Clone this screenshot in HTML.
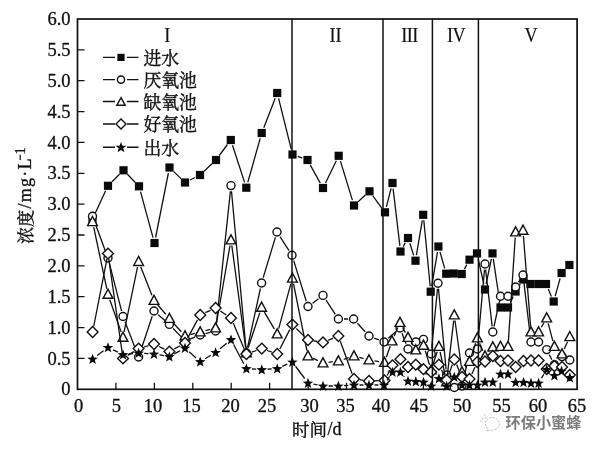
<!DOCTYPE html>
<html><head><meta charset="utf-8"><title>chart</title>
<style>html,body{margin:0;padding:0;background:#fff}body{width:600px;height:449px;overflow:hidden;font-family:"Liberation Serif",serif}svg{display:block;opacity:0.999;will-change:transform}</style>
</head><body>
<svg width="600" height="449" viewBox="0 0 600 449">
<rect width="600" height="449" fill="#fff"/>
<rect x="77.5" y="19.0" width="499.6" height="370.3" fill="none" stroke="#111" stroke-width="1.7"/>
<path d="M77.5 358.4h7M77.5 327.6h7M77.5 296.7h7M77.5 265.9h7M77.5 235.0h7M77.5 204.1h7M77.5 173.3h7M77.5 142.4h7M77.5 111.6h7M77.5 80.7h7M77.5 49.8h7M115.9 389.3v-6.5M154.4 389.3v-6.5M192.8 389.3v-6.5M231.2 389.3v-6.5M269.6 389.3v-6.5M308.1 389.3v-6.5M346.5 389.3v-6.5M384.9 389.3v-6.5M423.4 389.3v-6.5M461.8 389.3v-6.5M500.2 389.3v-6.5M538.7 389.3v-6.5" stroke="#111" stroke-width="1.3" fill="none"/>
<g font-family="'Liberation Serif', serif" font-size="18.5px" fill="#111" stroke="#111" stroke-width="0.3">
<text x="70.5" y="395.4" text-anchor="end">0</text>
<text x="70.5" y="364.5" text-anchor="end">0.5</text>
<text x="70.5" y="333.7" text-anchor="end">1.0</text>
<text x="70.5" y="302.8" text-anchor="end">1.5</text>
<text x="70.5" y="272.0" text-anchor="end">2.0</text>
<text x="70.5" y="241.1" text-anchor="end">2.5</text>
<text x="70.5" y="210.2" text-anchor="end">3.0</text>
<text x="70.5" y="179.4" text-anchor="end">3.5</text>
<text x="70.5" y="148.5" text-anchor="end">4.0</text>
<text x="70.5" y="117.7" text-anchor="end">4.5</text>
<text x="70.5" y="86.8" text-anchor="end">5.0</text>
<text x="70.5" y="55.9" text-anchor="end">5.5</text>
<text x="70.5" y="25.1" text-anchor="end">6.0</text>
<text x="78.5" y="411.8" text-anchor="middle">0</text>
<text x="116.4" y="411.8" text-anchor="middle">5</text>
<text x="153.0" y="411.8" text-anchor="middle">10</text>
<text x="191.4" y="411.8" text-anchor="middle">15</text>
<text x="230.4" y="411.8" text-anchor="middle">20</text>
<text x="267.0" y="411.8" text-anchor="middle">25</text>
<text x="309.6" y="411.8" text-anchor="middle">30</text>
<text x="345.6" y="411.8" text-anchor="middle">35</text>
<text x="381.0" y="411.8" text-anchor="middle">40</text>
<text x="419.0" y="411.8" text-anchor="middle">45</text>
<text x="462.0" y="411.8" text-anchor="middle">50</text>
<text x="501.6" y="411.8" text-anchor="middle">55</text>
<text x="538.0" y="411.8" text-anchor="middle">60</text>
<text x="577.0" y="411.8" text-anchor="middle">65</text>
</g>
<g font-family="'Liberation Serif', serif" font-size="22px" fill="#111" stroke="#111" stroke-width="0.2" text-anchor="middle">
<text transform="translate(167.4 42.1) scale(0.83 1)" letter-spacing="0">I</text>
<text transform="translate(335.5 42.1) scale(0.83 1)" letter-spacing="0">II</text>
<text transform="translate(409.5 42.1) scale(0.83 1)" letter-spacing="-0.6">III</text>
<text transform="translate(456.0 42.1) scale(0.83 1)" letter-spacing="-0.8">IV</text>
<text transform="translate(531.0 42.1) scale(0.83 1)" letter-spacing="0">V</text>
</g>
<path d="M94.9 213.9L105.6 190.8M112.0 181.8L119.5 174.2M127.4 174.3L135.1 182.2M140.5 191.7L153.0 237.6M155.6 237.5L168.4 173.0M173.5 171.4L181.0 178.6M190.0 180.0L195.0 177.5M204.1 171.2L211.9 163.8M219.3 155.5L227.4 144.5M232.5 145.3L244.6 182.4M247.8 182.3L260.2 138.4M263.8 127.8L275.2 98.2M278.6 98.4L291.2 149.1M297.8 156.4L302.2 158.1M310.2 164.9L320.3 183.1M325.5 183.0L336.3 160.8M340.4 161.1L352.4 200.1M358.1 201.7L365.4 195.0M372.8 195.8L381.7 207.8M386.4 206.9L391.1 188.4M393.1 188.6L399.9 245.9M403.2 246.6L405.3 242.9M409.8 243.3L413.7 255.4M416.4 255.2L422.3 220.3M423.8 220.3L430.2 286.2M431.7 286.2L437.5 252.0M440.0 251.9L444.7 268.4M464.4 269.1L466.8 264.6M478.2 258.9L483.8 284.0M486.1 284.0L491.4 258.9M493.3 258.9L499.7 302.0M510.4 302.4L513.2 296.6M518.6 286.8L520.3 284.2M548.3 289.1L551.4 296.4M555.2 296.1L560.1 278.4" stroke="#111" stroke-width="1.30" fill="none"/>
<rect x="88.4" y="214.9" width="8.2" height="8.2" fill="#0a0a0a"/>
<rect x="103.9" y="181.7" width="8.2" height="8.2" fill="#0a0a0a"/>
<rect x="119.4" y="166.2" width="8.2" height="8.2" fill="#0a0a0a"/>
<rect x="134.9" y="182.2" width="8.2" height="8.2" fill="#0a0a0a"/>
<rect x="150.4" y="238.9" width="8.2" height="8.2" fill="#0a0a0a"/>
<rect x="165.4" y="163.4" width="8.2" height="8.2" fill="#0a0a0a"/>
<rect x="180.9" y="178.4" width="8.2" height="8.2" fill="#0a0a0a"/>
<rect x="195.9" y="170.9" width="8.2" height="8.2" fill="#0a0a0a"/>
<rect x="211.9" y="155.9" width="8.2" height="8.2" fill="#0a0a0a"/>
<rect x="226.7" y="135.9" width="8.2" height="8.2" fill="#0a0a0a"/>
<rect x="242.2" y="183.6" width="8.2" height="8.2" fill="#0a0a0a"/>
<rect x="257.6" y="128.9" width="8.2" height="8.2" fill="#0a0a0a"/>
<rect x="273.1" y="88.9" width="8.2" height="8.2" fill="#0a0a0a"/>
<rect x="288.4" y="150.4" width="8.2" height="8.2" fill="#0a0a0a"/>
<rect x="303.4" y="155.9" width="8.2" height="8.2" fill="#0a0a0a"/>
<rect x="318.9" y="183.9" width="8.2" height="8.2" fill="#0a0a0a"/>
<rect x="334.6" y="151.7" width="8.2" height="8.2" fill="#0a0a0a"/>
<rect x="349.9" y="201.4" width="8.2" height="8.2" fill="#0a0a0a"/>
<rect x="365.4" y="187.2" width="8.2" height="8.2" fill="#0a0a0a"/>
<rect x="380.9" y="208.2" width="8.2" height="8.2" fill="#0a0a0a"/>
<rect x="388.4" y="178.9" width="8.2" height="8.2" fill="#0a0a0a"/>
<rect x="396.4" y="247.4" width="8.2" height="8.2" fill="#0a0a0a"/>
<rect x="403.9" y="233.9" width="8.2" height="8.2" fill="#0a0a0a"/>
<rect x="411.4" y="256.6" width="8.2" height="8.2" fill="#0a0a0a"/>
<rect x="419.1" y="210.7" width="8.2" height="8.2" fill="#0a0a0a"/>
<rect x="426.6" y="287.6" width="8.2" height="8.2" fill="#0a0a0a"/>
<rect x="434.3" y="242.4" width="8.2" height="8.2" fill="#0a0a0a"/>
<rect x="442.1" y="269.6" width="8.2" height="8.2" fill="#0a0a0a"/>
<rect x="449.6" y="269.4" width="8.2" height="8.2" fill="#0a0a0a"/>
<rect x="457.6" y="269.9" width="8.2" height="8.2" fill="#0a0a0a"/>
<rect x="465.4" y="255.6" width="8.2" height="8.2" fill="#0a0a0a"/>
<rect x="472.9" y="249.3" width="8.2" height="8.2" fill="#0a0a0a"/>
<rect x="480.9" y="285.4" width="8.2" height="8.2" fill="#0a0a0a"/>
<rect x="488.4" y="249.3" width="8.2" height="8.2" fill="#0a0a0a"/>
<rect x="496.4" y="303.4" width="8.2" height="8.2" fill="#0a0a0a"/>
<rect x="503.9" y="303.4" width="8.2" height="8.2" fill="#0a0a0a"/>
<rect x="511.5" y="287.4" width="8.2" height="8.2" fill="#0a0a0a"/>
<rect x="519.2" y="275.4" width="8.2" height="8.2" fill="#0a0a0a"/>
<rect x="526.4" y="279.9" width="8.2" height="8.2" fill="#0a0a0a"/>
<rect x="534.4" y="279.9" width="8.2" height="8.2" fill="#0a0a0a"/>
<rect x="541.9" y="279.9" width="8.2" height="8.2" fill="#0a0a0a"/>
<rect x="549.6" y="297.4" width="8.2" height="8.2" fill="#0a0a0a"/>
<rect x="557.5" y="268.9" width="8.2" height="8.2" fill="#0a0a0a"/>
<rect x="565.3" y="260.9" width="8.2" height="8.2" fill="#0a0a0a"/>
<path d="M94.5 221.5L106.0 252.8M109.4 263.4L121.6 311.1M125.0 321.7L136.6 351.8M140.4 351.7L152.2 316.3M158.2 314.7L165.2 320.7M173.2 328.5L181.2 336.9M190.2 338.9L195.0 337.1M205.6 333.6L210.2 332.4M216.2 325.4L230.4 191.2M231.5 191.2L245.9 347.4M247.6 347.5L260.4 288.5M263.2 277.6L275.4 237.4M280.0 236.7L289.0 250.6M293.7 260.6L306.3 301.2M312.5 303.2L318.5 298.7M326.1 300.1L335.3 314.3M344.0 319.0L348.0 319.0M357.4 323.2L365.2 331.8M374.2 338.1L378.8 339.9M388.2 338.3L395.8 331.7M402.0 333.2L406.0 343.8M426.1 344.4L428.6 349.0M431.7 348.4L437.5 288.8M438.5 288.8L446.1 369.4M449.5 379.8L451.4 382.7M463.2 380.5L468.3 358.5M477.9 343.4L484.5 269.6M485.6 269.6L492.2 326.4M494.0 326.5L499.3 301.8M511.5 292.0L512.1 291.3M518.5 282.2L520.1 279.8M523.7 280.6L530.3 336.4M549.2 354.6L551.9 359.8" stroke="#111" stroke-width="1.30" fill="none"/>
<circle cx="92.5" cy="216.3" r="4.0" fill="#fff" stroke="#111" stroke-width="1.4"/>
<circle cx="108.0" cy="258.0" r="4.0" fill="#fff" stroke="#111" stroke-width="1.4"/>
<circle cx="123.0" cy="316.5" r="4.0" fill="#fff" stroke="#111" stroke-width="1.4"/>
<circle cx="138.6" cy="357.0" r="4.0" fill="#fff" stroke="#111" stroke-width="1.4"/>
<circle cx="154.0" cy="311.0" r="4.0" fill="#fff" stroke="#111" stroke-width="1.4"/>
<circle cx="169.4" cy="324.4" r="4.0" fill="#fff" stroke="#111" stroke-width="1.4"/>
<circle cx="185.0" cy="341.0" r="4.0" fill="#fff" stroke="#111" stroke-width="1.4"/>
<circle cx="200.2" cy="335.0" r="4.0" fill="#fff" stroke="#111" stroke-width="1.4"/>
<circle cx="215.6" cy="331.0" r="4.0" fill="#fff" stroke="#111" stroke-width="1.4"/>
<circle cx="231.0" cy="185.6" r="4.0" fill="#fff" stroke="#111" stroke-width="1.4"/>
<circle cx="246.4" cy="353.0" r="4.0" fill="#fff" stroke="#111" stroke-width="1.4"/>
<circle cx="261.6" cy="283.0" r="4.0" fill="#fff" stroke="#111" stroke-width="1.4"/>
<circle cx="277.0" cy="232.0" r="4.0" fill="#fff" stroke="#111" stroke-width="1.4"/>
<circle cx="292.0" cy="255.3" r="4.0" fill="#fff" stroke="#111" stroke-width="1.4"/>
<circle cx="308.0" cy="306.5" r="4.0" fill="#fff" stroke="#111" stroke-width="1.4"/>
<circle cx="323.0" cy="295.4" r="4.0" fill="#fff" stroke="#111" stroke-width="1.4"/>
<circle cx="338.4" cy="319.0" r="4.0" fill="#fff" stroke="#111" stroke-width="1.4"/>
<circle cx="353.6" cy="319.0" r="4.0" fill="#fff" stroke="#111" stroke-width="1.4"/>
<circle cx="369.0" cy="336.0" r="4.0" fill="#fff" stroke="#111" stroke-width="1.4"/>
<circle cx="384.0" cy="342.0" r="4.0" fill="#fff" stroke="#111" stroke-width="1.4"/>
<circle cx="400.0" cy="328.0" r="4.0" fill="#fff" stroke="#111" stroke-width="1.4"/>
<circle cx="408.0" cy="349.0" r="4.0" fill="#fff" stroke="#111" stroke-width="1.4"/>
<circle cx="415.8" cy="342.0" r="4.0" fill="#fff" stroke="#111" stroke-width="1.4"/>
<circle cx="423.5" cy="339.4" r="4.0" fill="#fff" stroke="#111" stroke-width="1.4"/>
<circle cx="431.2" cy="354.0" r="4.0" fill="#fff" stroke="#111" stroke-width="1.4"/>
<circle cx="438.0" cy="283.2" r="4.0" fill="#fff" stroke="#111" stroke-width="1.4"/>
<circle cx="446.6" cy="375.0" r="4.0" fill="#fff" stroke="#111" stroke-width="1.4"/>
<circle cx="454.3" cy="387.5" r="4.0" fill="#fff" stroke="#111" stroke-width="1.4"/>
<circle cx="462.0" cy="386.0" r="4.0" fill="#fff" stroke="#111" stroke-width="1.4"/>
<circle cx="469.5" cy="353.0" r="4.0" fill="#fff" stroke="#111" stroke-width="1.4"/>
<circle cx="477.4" cy="349.0" r="4.0" fill="#fff" stroke="#111" stroke-width="1.4"/>
<circle cx="485.0" cy="264.0" r="4.0" fill="#fff" stroke="#111" stroke-width="1.4"/>
<circle cx="492.8" cy="332.0" r="4.0" fill="#fff" stroke="#111" stroke-width="1.4"/>
<circle cx="500.5" cy="296.3" r="4.0" fill="#fff" stroke="#111" stroke-width="1.4"/>
<circle cx="508.0" cy="296.3" r="4.0" fill="#fff" stroke="#111" stroke-width="1.4"/>
<circle cx="515.6" cy="287.0" r="4.0" fill="#fff" stroke="#111" stroke-width="1.4"/>
<circle cx="523.0" cy="275.0" r="4.0" fill="#fff" stroke="#111" stroke-width="1.4"/>
<circle cx="531.0" cy="342.0" r="4.0" fill="#fff" stroke="#111" stroke-width="1.4"/>
<circle cx="538.6" cy="342.0" r="4.0" fill="#fff" stroke="#111" stroke-width="1.4"/>
<circle cx="546.7" cy="349.6" r="4.0" fill="#fff" stroke="#111" stroke-width="1.4"/>
<circle cx="554.4" cy="364.8" r="4.0" fill="#fff" stroke="#111" stroke-width="1.4"/>
<circle cx="562.0" cy="356.6" r="4.0" fill="#fff" stroke="#111" stroke-width="1.4"/>
<circle cx="569.8" cy="360.0" r="4.0" fill="#fff" stroke="#111" stroke-width="1.4"/>
<path d="M93.7 227.2L106.8 288.9M109.8 299.7L121.2 332.1M124.1 331.9L137.5 267.1M140.7 266.8L151.9 295.3M157.6 304.8L165.8 314.2M173.1 322.7L181.3 331.8M190.4 334.6L194.8 333.4M205.6 330.6L210.2 329.4M216.6 322.5L230.0 245.5M231.8 245.5L245.6 347.5M248.2 347.7L259.8 312.6M264.4 312.1L274.4 329.2M278.7 328.6L290.9 283.6M293.5 283.7L306.9 350.5M313.1 358.4L317.9 360.6M328.6 362.3L332.8 361.7M343.7 359.3L348.7 357.7M359.4 357.4L363.6 358.6M374.5 360.9L379.0 361.6M386.3 357.2L390.2 346.3M394.2 335.9L397.8 327.6M402.6 327.4L405.4 332.6M411.0 342.3L412.8 345.2M425.2 350.6L429.5 364.7M432.9 364.7L437.2 351.8M440.1 352.0L445.4 376.5M447.2 376.4L453.7 320.6M455.0 320.5L461.3 366.5M465.3 367.4L466.2 366.1M471.3 356.2L475.6 343.3M479.6 343.2L482.8 350.8M488.7 351.8L489.1 351.2M508.4 340.9L515.2 237.6M523.4 235.9L530.6 326.4M541.4 327.2L543.9 322.8M548.2 323.4L552.9 341.1M564.3 348.9L567.5 341.8" stroke="#111" stroke-width="1.30" fill="none"/>
<path d="M92.5 216.5L97.4 225.6L87.6 225.6Z" fill="#fff" stroke="#111" stroke-width="1.4"/>
<path d="M108.0 289.2L112.9 298.3L103.1 298.3Z" fill="#fff" stroke="#111" stroke-width="1.4"/>
<path d="M123.0 332.2L127.9 341.3L118.1 341.3Z" fill="#fff" stroke="#111" stroke-width="1.4"/>
<path d="M138.6 256.4L143.5 265.5L133.7 265.5Z" fill="#fff" stroke="#111" stroke-width="1.4"/>
<path d="M154.0 295.3L158.9 304.4L149.1 304.4Z" fill="#fff" stroke="#111" stroke-width="1.4"/>
<path d="M169.4 313.3L174.3 322.4L164.5 322.4Z" fill="#fff" stroke="#111" stroke-width="1.4"/>
<path d="M185.0 330.8L189.9 339.9L180.1 339.9Z" fill="#fff" stroke="#111" stroke-width="1.4"/>
<path d="M200.2 326.8L205.1 335.9L195.3 335.9Z" fill="#fff" stroke="#111" stroke-width="1.4"/>
<path d="M215.6 322.8L220.5 331.9L210.7 331.9Z" fill="#fff" stroke="#111" stroke-width="1.4"/>
<path d="M231.0 234.8L235.9 243.9L226.1 243.9Z" fill="#fff" stroke="#111" stroke-width="1.4"/>
<path d="M246.4 347.8L251.3 356.9L241.5 356.9Z" fill="#fff" stroke="#111" stroke-width="1.4"/>
<path d="M261.6 302.1L266.5 311.2L256.7 311.2Z" fill="#fff" stroke="#111" stroke-width="1.4"/>
<path d="M277.2 328.8L282.1 337.9L272.3 337.9Z" fill="#fff" stroke="#111" stroke-width="1.4"/>
<path d="M292.4 273.0L297.3 282.1L287.5 282.1Z" fill="#fff" stroke="#111" stroke-width="1.4"/>
<path d="M308.0 350.8L312.9 359.9L303.1 359.9Z" fill="#fff" stroke="#111" stroke-width="1.4"/>
<path d="M323.0 357.8L327.9 366.9L318.1 366.9Z" fill="#fff" stroke="#111" stroke-width="1.4"/>
<path d="M338.4 355.8L343.3 364.9L333.5 364.9Z" fill="#fff" stroke="#111" stroke-width="1.4"/>
<path d="M354.0 350.8L358.9 359.9L349.1 359.9Z" fill="#fff" stroke="#111" stroke-width="1.4"/>
<path d="M369.0 354.8L373.9 363.9L364.1 363.9Z" fill="#fff" stroke="#111" stroke-width="1.4"/>
<path d="M384.5 357.3L389.4 366.4L379.6 366.4Z" fill="#fff" stroke="#111" stroke-width="1.4"/>
<path d="M392.0 335.8L396.9 344.9L387.1 344.9Z" fill="#fff" stroke="#111" stroke-width="1.4"/>
<path d="M400.0 317.3L404.9 326.4L395.1 326.4Z" fill="#fff" stroke="#111" stroke-width="1.4"/>
<path d="M408.0 332.3L412.9 341.4L403.1 341.4Z" fill="#fff" stroke="#111" stroke-width="1.4"/>
<path d="M415.8 344.8L420.7 353.9L410.9 353.9Z" fill="#fff" stroke="#111" stroke-width="1.4"/>
<path d="M423.5 340.1L428.4 349.2L418.6 349.2Z" fill="#fff" stroke="#111" stroke-width="1.4"/>
<path d="M431.2 364.8L436.1 373.9L426.3 373.9Z" fill="#fff" stroke="#111" stroke-width="1.4"/>
<path d="M438.9 341.3L443.8 350.4L434.0 350.4Z" fill="#fff" stroke="#111" stroke-width="1.4"/>
<path d="M446.6 376.8L451.5 385.9L441.7 385.9Z" fill="#fff" stroke="#111" stroke-width="1.4"/>
<path d="M454.3 309.8L459.2 318.9L449.4 318.9Z" fill="#fff" stroke="#111" stroke-width="1.4"/>
<path d="M462.0 366.8L466.9 375.9L457.1 375.9Z" fill="#fff" stroke="#111" stroke-width="1.4"/>
<path d="M469.5 356.3L474.4 365.4L464.6 365.4Z" fill="#fff" stroke="#111" stroke-width="1.4"/>
<path d="M477.4 332.8L482.3 341.9L472.5 341.9Z" fill="#fff" stroke="#111" stroke-width="1.4"/>
<path d="M485.0 350.8L489.9 359.9L480.1 359.9Z" fill="#fff" stroke="#111" stroke-width="1.4"/>
<path d="M492.8 341.8L497.7 350.9L487.9 350.9Z" fill="#fff" stroke="#111" stroke-width="1.4"/>
<path d="M500.5 341.3L505.4 350.4L495.6 350.4Z" fill="#fff" stroke="#111" stroke-width="1.4"/>
<path d="M508.0 341.3L512.9 350.4L503.1 350.4Z" fill="#fff" stroke="#111" stroke-width="1.4"/>
<path d="M515.6 226.8L520.5 235.9L510.7 235.9Z" fill="#fff" stroke="#111" stroke-width="1.4"/>
<path d="M523.0 225.1L527.9 234.2L518.1 234.2Z" fill="#fff" stroke="#111" stroke-width="1.4"/>
<path d="M531.0 326.8L535.9 335.9L526.1 335.9Z" fill="#fff" stroke="#111" stroke-width="1.4"/>
<path d="M538.6 326.8L543.5 335.9L533.7 335.9Z" fill="#fff" stroke="#111" stroke-width="1.4"/>
<path d="M546.7 312.8L551.6 321.9L541.8 321.9Z" fill="#fff" stroke="#111" stroke-width="1.4"/>
<path d="M554.4 341.3L559.3 350.4L549.5 350.4Z" fill="#fff" stroke="#111" stroke-width="1.4"/>
<path d="M562.0 348.8L566.9 357.9L557.1 357.9Z" fill="#fff" stroke="#111" stroke-width="1.4"/>
<path d="M569.8 331.5L574.7 340.6L564.9 340.6Z" fill="#fff" stroke="#111" stroke-width="1.4"/>
<path d="M93.7 326.5L106.9 259.1M108.8 259.1L122.2 352.9M127.7 355.4L133.9 351.6M144.0 347.0L148.6 345.6M159.0 346.5L164.4 349.1M174.3 348.9L180.1 345.7M187.7 338.1L197.5 319.9M205.3 312.7L210.5 310.3M220.3 311.0L226.3 315.0M233.2 323.1L244.2 348.9M251.7 352.1L256.5 350.5M267.1 350.5L271.9 352.1M279.8 349.0L289.8 329.6M296.4 328.5L304.0 336.1M313.5 340.9L317.5 341.5M328.2 340.3L333.2 338.1M340.3 341.3L352.1 373.7M359.6 379.7L363.4 380.3M374.6 380.8L378.9 380.7M387.1 375.5L389.9 370.3M441.4 369.7L444.1 375.0M448.6 374.8L452.3 364.7M456.6 364.6L459.7 371.9M471.9 373.9L475.0 367.1M542.5 364.6L542.8 364.9" stroke="#111" stroke-width="1.30" fill="none"/>
<path d="M92.6 326.6L98.0 332.0L92.6 337.4L87.2 332.0Z" fill="#fff" stroke="#111" stroke-width="1.4"/>
<path d="M108.0 248.2L113.4 253.6L108.0 259.0L102.6 253.6Z" fill="#fff" stroke="#111" stroke-width="1.4"/>
<path d="M123.0 353.0L128.4 358.4L123.0 363.8L117.6 358.4Z" fill="#fff" stroke="#111" stroke-width="1.4"/>
<path d="M138.6 343.2L144.0 348.6L138.6 354.0L133.2 348.6Z" fill="#fff" stroke="#111" stroke-width="1.4"/>
<path d="M154.0 338.6L159.4 344.0L154.0 349.4L148.6 344.0Z" fill="#fff" stroke="#111" stroke-width="1.4"/>
<path d="M169.4 346.2L174.8 351.6L169.4 357.0L164.0 351.6Z" fill="#fff" stroke="#111" stroke-width="1.4"/>
<path d="M185.0 337.6L190.4 343.0L185.0 348.4L179.6 343.0Z" fill="#fff" stroke="#111" stroke-width="1.4"/>
<path d="M200.2 309.6L205.6 315.0L200.2 320.4L194.8 315.0Z" fill="#fff" stroke="#111" stroke-width="1.4"/>
<path d="M215.6 302.6L221.0 308.0L215.6 313.4L210.2 308.0Z" fill="#fff" stroke="#111" stroke-width="1.4"/>
<path d="M231.0 312.6L236.4 318.0L231.0 323.4L225.6 318.0Z" fill="#fff" stroke="#111" stroke-width="1.4"/>
<path d="M246.4 348.6L251.8 354.0L246.4 359.4L241.0 354.0Z" fill="#fff" stroke="#111" stroke-width="1.4"/>
<path d="M261.8 343.2L267.2 348.6L261.8 354.0L256.4 348.6Z" fill="#fff" stroke="#111" stroke-width="1.4"/>
<path d="M277.2 348.6L282.6 354.0L277.2 359.4L271.8 354.0Z" fill="#fff" stroke="#111" stroke-width="1.4"/>
<path d="M292.4 319.2L297.8 324.6L292.4 330.0L287.0 324.6Z" fill="#fff" stroke="#111" stroke-width="1.4"/>
<path d="M308.0 334.6L313.4 340.0L308.0 345.4L302.6 340.0Z" fill="#fff" stroke="#111" stroke-width="1.4"/>
<path d="M323.0 337.0L328.4 342.4L323.0 347.8L317.6 342.4Z" fill="#fff" stroke="#111" stroke-width="1.4"/>
<path d="M338.4 330.6L343.8 336.0L338.4 341.4L333.0 336.0Z" fill="#fff" stroke="#111" stroke-width="1.4"/>
<path d="M354.0 373.6L359.4 379.0L354.0 384.4L348.6 379.0Z" fill="#fff" stroke="#111" stroke-width="1.4"/>
<path d="M369.0 375.6L374.4 381.0L369.0 386.4L363.6 381.0Z" fill="#fff" stroke="#111" stroke-width="1.4"/>
<path d="M384.5 375.1L389.9 380.5L384.5 385.9L379.1 380.5Z" fill="#fff" stroke="#111" stroke-width="1.4"/>
<path d="M392.5 359.9L397.9 365.3L392.5 370.7L387.1 365.3Z" fill="#fff" stroke="#111" stroke-width="1.4"/>
<path d="M400.4 353.8L405.8 359.2L400.4 364.6L395.0 359.2Z" fill="#fff" stroke="#111" stroke-width="1.4"/>
<path d="M408.0 361.6L413.4 367.0L408.0 372.4L402.6 367.0Z" fill="#fff" stroke="#111" stroke-width="1.4"/>
<path d="M415.8 359.3L421.2 364.7L415.8 370.1L410.4 364.7Z" fill="#fff" stroke="#111" stroke-width="1.4"/>
<path d="M423.5 363.8L428.9 369.2L423.5 374.6L418.1 369.2Z" fill="#fff" stroke="#111" stroke-width="1.4"/>
<path d="M431.2 366.6L436.6 372.0L431.2 377.4L425.8 372.0Z" fill="#fff" stroke="#111" stroke-width="1.4"/>
<path d="M438.9 359.3L444.3 364.7L438.9 370.1L433.5 364.7Z" fill="#fff" stroke="#111" stroke-width="1.4"/>
<path d="M446.6 374.6L452.0 380.0L446.6 385.4L441.2 380.0Z" fill="#fff" stroke="#111" stroke-width="1.4"/>
<path d="M454.3 354.1L459.7 359.5L454.3 364.9L448.9 359.5Z" fill="#fff" stroke="#111" stroke-width="1.4"/>
<path d="M462.0 371.6L467.4 377.0L462.0 382.4L456.6 377.0Z" fill="#fff" stroke="#111" stroke-width="1.4"/>
<path d="M469.5 373.6L474.9 379.0L469.5 384.4L464.1 379.0Z" fill="#fff" stroke="#111" stroke-width="1.4"/>
<path d="M477.4 356.6L482.8 362.0L477.4 367.4L472.0 362.0Z" fill="#fff" stroke="#111" stroke-width="1.4"/>
<path d="M485.0 356.1L490.4 361.5L485.0 366.9L479.6 361.5Z" fill="#fff" stroke="#111" stroke-width="1.4"/>
<path d="M492.8 350.6L498.2 356.0L492.8 361.4L487.4 356.0Z" fill="#fff" stroke="#111" stroke-width="1.4"/>
<path d="M500.5 355.6L505.9 361.0L500.5 366.4L495.1 361.0Z" fill="#fff" stroke="#111" stroke-width="1.4"/>
<path d="M508.0 355.1L513.4 360.5L508.0 365.9L502.6 360.5Z" fill="#fff" stroke="#111" stroke-width="1.4"/>
<path d="M515.6 361.6L521.0 367.0L515.6 372.4L510.2 367.0Z" fill="#fff" stroke="#111" stroke-width="1.4"/>
<path d="M523.5 355.6L528.9 361.0L523.5 366.4L518.1 361.0Z" fill="#fff" stroke="#111" stroke-width="1.4"/>
<path d="M531.0 355.1L536.4 360.5L531.0 365.9L525.6 360.5Z" fill="#fff" stroke="#111" stroke-width="1.4"/>
<path d="M538.6 355.1L544.0 360.5L538.6 365.9L533.2 360.5Z" fill="#fff" stroke="#111" stroke-width="1.4"/>
<path d="M546.7 363.6L552.1 369.0L546.7 374.4L541.3 369.0Z" fill="#fff" stroke="#111" stroke-width="1.4"/>
<path d="M554.4 360.6L559.8 366.0L554.4 371.4L549.0 366.0Z" fill="#fff" stroke="#111" stroke-width="1.4"/>
<path d="M562.0 361.6L567.4 367.0L562.0 372.4L556.6 367.0Z" fill="#fff" stroke="#111" stroke-width="1.4"/>
<path d="M569.8 369.6L575.2 375.0L569.8 380.4L564.4 375.0Z" fill="#fff" stroke="#111" stroke-width="1.4"/>
<path d="M97.1 355.6L103.5 350.8M113.0 349.8L118.0 352.2M128.6 354.0L133.0 353.6M144.2 353.4L148.4 353.6M159.5 354.9L163.9 355.7M174.3 353.9L180.1 350.7M189.2 351.7L196.0 357.9M205.0 358.7L210.8 355.3M219.9 348.8L226.7 343.2M233.6 344.5L243.8 363.7M252.0 369.0L256.2 369.2M267.4 369.2L271.6 369.0M282.3 366.4L287.3 364.2M295.7 366.5L304.7 378.5M313.5 384.1L317.5 384.9M328.6 386.0L332.8 386.0M344.0 385.6L348.4 385.4M359.6 385.0L363.4 385.0M374.6 385.0L378.4 385.0M387.1 380.3L389.4 376.7M404.0 376.3L404.4 376.7M450.2 381.7L450.7 381.3M541.5 378.2L543.8 374.3" stroke="#111" stroke-width="1.30" fill="none"/>
<path d="M92.6 353.8L94.0 357.5L97.9 357.7L94.8 360.1L95.9 363.9L92.6 361.8L89.3 363.9L90.4 360.1L87.3 357.7L91.2 357.5Z" fill="#0a0a0a"/>
<path d="M108.0 342.2L109.4 345.9L113.3 346.1L110.2 348.5L111.3 352.3L108.0 350.2L104.7 352.3L105.8 348.5L102.7 346.1L106.6 345.9Z" fill="#0a0a0a"/>
<path d="M123.0 349.4L124.4 353.1L128.3 353.3L125.2 355.7L126.3 359.5L123.0 357.4L119.7 359.5L120.8 355.7L117.7 353.3L121.6 353.1Z" fill="#0a0a0a"/>
<path d="M138.6 347.8L140.0 351.5L143.9 351.7L140.8 354.1L141.9 357.9L138.6 355.8L135.3 357.9L136.4 354.1L133.3 351.7L137.2 351.5Z" fill="#0a0a0a"/>
<path d="M154.0 348.8L155.4 352.5L159.3 352.7L156.2 355.1L157.3 358.9L154.0 356.8L150.7 358.9L151.8 355.1L148.7 352.7L152.6 352.5Z" fill="#0a0a0a"/>
<path d="M169.4 351.4L170.8 355.1L174.7 355.3L171.6 357.7L172.7 361.5L169.4 359.4L166.1 361.5L167.2 357.7L164.1 355.3L168.0 355.1Z" fill="#0a0a0a"/>
<path d="M185.0 342.8L186.4 346.5L190.3 346.7L187.2 349.1L188.3 352.9L185.0 350.8L181.7 352.9L182.8 349.1L179.7 346.7L183.6 346.5Z" fill="#0a0a0a"/>
<path d="M200.2 356.4L201.6 360.1L205.5 360.3L202.4 362.7L203.5 366.5L200.2 364.4L196.9 366.5L198.0 362.7L194.9 360.3L198.8 360.1Z" fill="#0a0a0a"/>
<path d="M215.6 347.2L217.0 350.9L220.9 351.1L217.8 353.5L218.9 357.3L215.6 355.2L212.3 357.3L213.4 353.5L210.3 351.1L214.2 350.9Z" fill="#0a0a0a"/>
<path d="M231.0 334.4L232.4 338.1L236.3 338.3L233.2 340.7L234.3 344.5L231.0 342.4L227.7 344.5L228.8 340.7L225.7 338.3L229.6 338.1Z" fill="#0a0a0a"/>
<path d="M246.4 363.4L247.8 367.1L251.7 367.3L248.6 369.7L249.7 373.5L246.4 371.4L243.1 373.5L244.2 369.7L241.1 367.3L245.0 367.1Z" fill="#0a0a0a"/>
<path d="M261.8 364.4L263.2 368.1L267.1 368.3L264.0 370.7L265.1 374.5L261.8 372.4L258.5 374.5L259.6 370.7L256.5 368.3L260.4 368.1Z" fill="#0a0a0a"/>
<path d="M277.2 363.4L278.6 367.1L282.5 367.3L279.4 369.7L280.5 373.5L277.2 371.4L273.9 373.5L275.0 369.7L271.9 367.3L275.8 367.1Z" fill="#0a0a0a"/>
<path d="M292.4 356.8L293.8 360.5L297.7 360.7L294.6 363.1L295.7 366.9L292.4 364.8L289.1 366.9L290.2 363.1L287.1 360.7L291.0 360.5Z" fill="#0a0a0a"/>
<path d="M308.0 377.8L309.4 381.5L313.3 381.7L310.2 384.1L311.3 387.9L308.0 385.8L304.7 387.9L305.8 384.1L302.7 381.7L306.6 381.5Z" fill="#0a0a0a"/>
<path d="M323.0 380.8L324.4 384.5L328.3 384.7L325.2 387.1L326.3 390.9L323.0 388.8L319.7 390.9L320.8 387.1L317.7 384.7L321.6 384.5Z" fill="#0a0a0a"/>
<path d="M338.4 380.8L339.8 384.5L343.7 384.7L340.6 387.1L341.7 390.9L338.4 388.8L335.1 390.9L336.2 387.1L333.1 384.7L337.0 384.5Z" fill="#0a0a0a"/>
<path d="M354.0 379.8L355.4 383.5L359.3 383.7L356.2 386.1L357.3 389.9L354.0 387.8L350.7 389.9L351.8 386.1L348.7 383.7L352.6 383.5Z" fill="#0a0a0a"/>
<path d="M369.0 379.8L370.4 383.5L374.3 383.7L371.2 386.1L372.3 389.9L369.0 387.8L365.7 389.9L366.8 386.1L363.7 383.7L367.6 383.5Z" fill="#0a0a0a"/>
<path d="M384.0 379.8L385.4 383.5L389.3 383.7L386.2 386.1L387.3 389.9L384.0 387.8L380.7 389.9L381.8 386.1L378.7 383.7L382.6 383.5Z" fill="#0a0a0a"/>
<path d="M392.5 366.8L393.9 370.5L397.8 370.7L394.7 373.1L395.8 376.9L392.5 374.8L389.2 376.9L390.3 373.1L387.2 370.7L391.1 370.5Z" fill="#0a0a0a"/>
<path d="M400.4 366.8L401.8 370.5L405.7 370.7L402.6 373.1L403.7 376.9L400.4 374.8L397.1 376.9L398.2 373.1L395.1 370.7L399.0 370.5Z" fill="#0a0a0a"/>
<path d="M408.0 375.8L409.4 379.5L413.3 379.7L410.2 382.1L411.3 385.9L408.0 383.8L404.7 385.9L405.8 382.1L402.7 379.7L406.6 379.5Z" fill="#0a0a0a"/>
<path d="M415.8 376.3L417.2 380.0L421.1 380.2L418.0 382.6L419.1 386.4L415.8 384.3L412.5 386.4L413.6 382.6L410.5 380.2L414.4 380.0Z" fill="#0a0a0a"/>
<path d="M423.5 376.8L424.9 380.5L428.8 380.7L425.7 383.1L426.8 386.9L423.5 384.8L420.2 386.9L421.3 383.1L418.2 380.7L422.1 380.5Z" fill="#0a0a0a"/>
<path d="M431.2 380.8L432.6 384.5L436.5 384.7L433.4 387.1L434.5 390.9L431.2 388.8L427.9 390.9L429.0 387.1L425.9 384.7L429.8 384.5Z" fill="#0a0a0a"/>
<path d="M438.9 373.3L440.3 377.0L444.2 377.2L441.1 379.6L442.2 383.4L438.9 381.3L435.6 383.4L436.7 379.6L433.6 377.2L437.5 377.0Z" fill="#0a0a0a"/>
<path d="M446.6 380.8L448.0 384.5L451.9 384.7L448.8 387.1L449.9 390.9L446.6 388.8L443.3 390.9L444.4 387.1L441.3 384.7L445.2 384.5Z" fill="#0a0a0a"/>
<path d="M454.3 371.8L455.7 375.5L459.6 375.7L456.5 378.1L457.6 381.9L454.3 379.8L451.0 381.9L452.1 378.1L449.0 375.7L452.9 375.5Z" fill="#0a0a0a"/>
<path d="M462.0 379.8L463.4 383.5L467.3 383.7L464.2 386.1L465.3 389.9L462.0 387.8L458.7 389.9L459.8 386.1L456.7 383.7L460.6 383.5Z" fill="#0a0a0a"/>
<path d="M469.5 379.8L470.9 383.5L474.8 383.7L471.7 386.1L472.8 389.9L469.5 387.8L466.2 389.9L467.3 386.1L464.2 383.7L468.1 383.5Z" fill="#0a0a0a"/>
<path d="M477.4 379.8L478.8 383.5L482.7 383.7L479.6 386.1L480.7 389.9L477.4 387.8L474.1 389.9L475.2 386.1L472.1 383.7L476.0 383.5Z" fill="#0a0a0a"/>
<path d="M485.0 376.8L486.4 380.5L490.3 380.7L487.2 383.1L488.3 386.9L485.0 384.8L481.7 386.9L482.8 383.1L479.7 380.7L483.6 380.5Z" fill="#0a0a0a"/>
<path d="M492.8 376.8L494.2 380.5L498.1 380.7L495.0 383.1L496.1 386.9L492.8 384.8L489.5 386.9L490.6 383.1L487.5 380.7L491.4 380.5Z" fill="#0a0a0a"/>
<path d="M500.5 368.8L501.9 372.5L505.8 372.7L502.7 375.1L503.8 378.9L500.5 376.8L497.2 378.9L498.3 375.1L495.2 372.7L499.1 372.5Z" fill="#0a0a0a"/>
<path d="M508.0 368.8L509.4 372.5L513.3 372.7L510.2 375.1L511.3 378.9L508.0 376.8L504.7 378.9L505.8 375.1L502.7 372.7L506.6 372.5Z" fill="#0a0a0a"/>
<path d="M515.6 377.1L517.0 380.8L520.9 381.0L517.8 383.4L518.9 387.2L515.6 385.1L512.3 387.2L513.4 383.4L510.3 381.0L514.2 380.8Z" fill="#0a0a0a"/>
<path d="M523.5 377.1L524.9 380.8L528.8 381.0L525.7 383.4L526.8 387.2L523.5 385.1L520.2 387.2L521.3 383.4L518.2 381.0L522.1 380.8Z" fill="#0a0a0a"/>
<path d="M531.0 377.8L532.4 381.5L536.3 381.7L533.2 384.1L534.3 387.9L531.0 385.8L527.7 387.9L528.8 384.1L525.7 381.7L529.6 381.5Z" fill="#0a0a0a"/>
<path d="M538.6 377.8L540.0 381.5L543.9 381.7L540.8 384.1L541.9 387.9L538.6 385.8L535.3 387.9L536.4 384.1L533.3 381.7L537.2 381.5Z" fill="#0a0a0a"/>
<path d="M546.7 364.3L548.1 368.0L552.0 368.2L548.9 370.6L550.0 374.4L546.7 372.3L543.4 374.4L544.5 370.6L541.4 368.2L545.3 368.0Z" fill="#0a0a0a"/>
<path d="M554.4 370.3L555.8 374.0L559.7 374.2L556.6 376.6L557.7 380.4L554.4 378.3L551.1 380.4L552.2 376.6L549.1 374.2L553.0 374.0Z" fill="#0a0a0a"/>
<path d="M561.5 365.8L562.9 369.5L566.8 369.7L563.7 372.1L564.8 375.9L561.5 373.8L558.2 375.9L559.3 372.1L556.2 369.7L560.1 369.5Z" fill="#0a0a0a"/>
<path d="M569.8 372.3L571.2 376.0L575.1 376.2L572.0 378.6L573.1 382.4L569.8 380.3L566.5 382.4L567.6 378.6L564.5 376.2L568.4 376.0Z" fill="#0a0a0a"/>
<line x1="292.0" y1="19.0" x2="292.0" y2="389.3" stroke="#111" stroke-width="1.5"/>
<line x1="383.0" y1="19.0" x2="383.0" y2="389.3" stroke="#111" stroke-width="1.5"/>
<line x1="432.4" y1="19.0" x2="432.4" y2="389.3" stroke="#111" stroke-width="1.5"/>
<line x1="478.4" y1="19.0" x2="478.4" y2="389.3" stroke="#111" stroke-width="1.5"/>
<path d="M103 57.4h12M127 57.4h11.5" stroke="#111" stroke-width="1.4"/>
<path d="M103 79.6h12M127 79.6h11.5" stroke="#111" stroke-width="1.4"/>
<path d="M103 101.5h12M127 101.5h11.5" stroke="#111" stroke-width="1.4"/>
<path d="M103 124.0h12M127 124.0h11.5" stroke="#111" stroke-width="1.4"/>
<path d="M103 147.2h12M127 147.2h11.5" stroke="#111" stroke-width="1.4"/>
<rect x="117.4" y="53.8" width="7.2" height="7.2" fill="#0a0a0a"/>
<circle cx="121.0" cy="79.6" r="3.6" fill="#fff" stroke="#111" stroke-width="1.4"/>
<path d="M121.0 97.6L125.2 105.3L116.8 105.3Z" fill="#fff" stroke="#111" stroke-width="1.4"/>
<path d="M121.0 119.0L126.0 124.0L121.0 129.0L116.0 124.0Z" fill="#fff" stroke="#111" stroke-width="1.4"/>
<path d="M121.0 141.9L122.4 145.7L126.4 145.8L123.3 148.3L124.4 152.2L121.0 150.0L117.6 152.2L118.7 148.3L115.6 145.8L119.6 145.7Z" fill="#0a0a0a"/>
<g font-family="'Liberation Serif', 'Noto Serif CJK SC', serif" font-size="17.8px" fill="#111" stroke="#111" stroke-width="0.4">
<text x="143.5" y="64.7">进水</text>
<text x="143.5" y="86.9">厌氧池</text>
<text x="143.5" y="108.8">缺氧池</text>
<text x="143.5" y="131.3">好氧池</text>
<text x="143.5" y="154.5">出水</text>
</g>
<g transform="translate(31 242.8) rotate(-90)">
<text x="-1.3" y="1.2" font-family="'Liberation Serif', 'Noto Serif CJK SC', serif" font-size="17.2px" fill="#111" stroke="#111" stroke-width="0.4">浓度</text>
<text x="34.4" y="0" font-family="'Liberation Serif', serif" font-size="18px" fill="#111" stroke="#111" stroke-width="0.3" letter-spacing="1.2">/mg·L</text>
<path d="M82.8 -10.8h5.2" stroke="#111" stroke-width="1.2"/>
<text x="88.3" y="-6.5" font-family="'Liberation Serif', serif" font-size="14.5px" fill="#111" stroke="#111" stroke-width="0.3">1</text>
</g>
<text x="292" y="435.5" font-family="'Liberation Serif', 'Noto Serif CJK SC', serif" font-size="17.5px" fill="#111" stroke="#111" stroke-width="0.4">时间</text>
<text x="327.5" y="435" font-family="'Liberation Serif', serif" font-size="18px" fill="#111" stroke="#111" stroke-width="0.3">/d</text>
<text x="505.5" y="428.3" font-family="'Liberation Sans', 'Noto Sans CJK SC', sans-serif" font-size="15.2px" font-weight="bold" fill="#fff" stroke="#fff" stroke-width="1.7" stroke-linejoin="round">环保小蜜蜂</text>
<text x="505.5" y="428.3" font-family="'Liberation Sans', 'Noto Sans CJK SC', sans-serif" font-size="15.2px" font-weight="bold" fill="#7c7c7c">环保小蜜蜂</text>
<g transform="translate(2.2 0.6)" fill="none" stroke="#b4b4b4" stroke-width="1"><path d="M484.5 419.5a7 6.3 0 1 1 3 9.6l-2.6 1.6l0.6-2.6a6.5 6.5 0 0 1-1-8.6z" stroke-dasharray="2 1.2"/><path d="M484 417.5a5 4.5 0 0 0-5.5 5.5" stroke-dasharray="1.5 1.5"/><path d="M478.5 416l2 2M482 413.5l1.2 2.4" stroke="#cfcfcf"/></g>
</svg>
</body></html>
